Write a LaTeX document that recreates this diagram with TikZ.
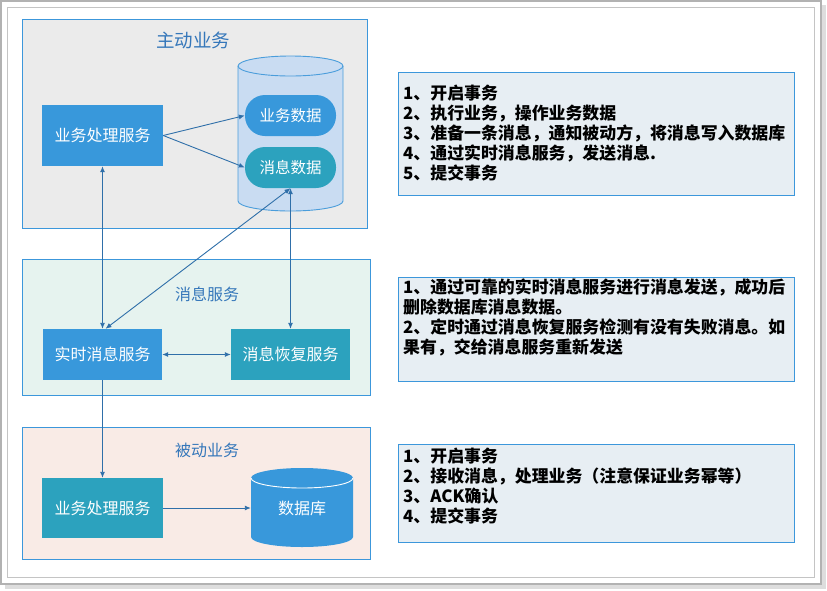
\documentclass[tikz,border=0pt]{standalone}
\usepackage{fontspec}
\setmainfont{Noto Sans CJK SC}
\newfontfamily\cjk{Noto Sans CJK SC}
\usetikzlibrary{arrows.meta}
\definecolor{frameout}{HTML}{B2B2B2}
\definecolor{framein}{HTML}{C4C4C4}
\definecolor{shadowc}{HTML}{DDDDDD}
\definecolor{edgeblue}{HTML}{3C97DB}
\definecolor{grpAfill}{HTML}{EBEBEB}
\definecolor{grpBfill}{HTML}{E6F3EF}
\definecolor{grpCfill}{HTML}{F9EBE6}
\definecolor{boxfill}{HTML}{E7EEF3}
\definecolor{cylfill}{HTML}{C9DCF2}
\definecolor{cyledge}{HTML}{4A9DDB}
\definecolor{nodeblue}{HTML}{3898DB}
\definecolor{nodeteal}{HTML}{2CA2BE}
\definecolor{arrowc}{HTML}{2F6FA9}
\definecolor{titlec}{HTML}{3577BA}
\begin{document}
\begin{tikzpicture}[x=1pt,y=1pt,
  grp/.style={draw=edgeblue,line width=0.9pt,rectangle,inner sep=0pt},
  svc/.style={rectangle,inner sep=0pt,text=white,font=\cjk\fontsize{16}{18}\selectfont},
  pill/.style={rectangle,rounded corners=20pt,inner sep=0pt,text=white,minimum width=91pt,minimum height=41pt,font=\cjk\fontsize{15.5}{18}\selectfont},
  ttl/.style={text=titlec,inner sep=0pt},
  notebox/.style={draw=edgeblue,line width=0.9pt,fill=boxfill,rectangle,inner sep=0pt,minimum width=396pt},
  notetext/.style={anchor=west,align=left,inner sep=0pt,font=\cjk\bfseries\fontsize{16.9}{20}\selectfont},
  arr/.style={draw=arrowc,line width=0.9pt,-{Latex[length=6pt,width=5pt]}},
  darr/.style={draw=arrowc,line width=0.9pt,{Latex[length=6pt,width=5pt]}-{Latex[length=6pt,width=5pt]}}
]
\useasboundingbox (0,0) rectangle (827,-590);
% outer frame
\fill[shadowc] (5,-5) rectangle (826,-589);
\fill[white] (1,-1) rectangle (821,-584);
\draw[frameout,line width=1.3pt] (1,-1) rectangle (821,-584);
\draw[framein,line width=1pt] (7,-7) rectangle (814,-577);

% groups
\node[grp,fill=grpAfill,minimum width=345pt,minimum height=209pt] (grpA) at (194.5,-123.5) {};
\node[grp,fill=grpBfill,minimum width=348pt,minimum height=136pt] (grpB) at (196,-327) {};
\node[grp,fill=grpCfill,minimum width=348pt,minimum height=132pt] (grpC) at (196,-493) {};

\node[ttl,font=\cjk\fontsize{18.5}{20}\selectfont] (ttlA) at (193,-40) {主动业务};
\node[ttl,font=\cjk\fontsize{16}{18}\selectfont] (ttlB) at (207,-294) {消息服务};
\node[ttl,font=\cjk\fontsize{16}{18}\selectfont] (ttlC) at (207,-450) {被动业务};

% top cylinder
\fill[cylfill] (238,-66) -- (238,-201) arc[start angle=180,end angle=360,x radius=52.5,y radius=10] -- (343,-66) arc[start angle=0,end angle=180,x radius=52.5,y radius=10] -- cycle;
\draw[cyledge,line width=0.9pt] (238,-66) -- (238,-201) arc[start angle=180,end angle=360,x radius=52.5,y radius=10] -- (343,-66) arc[start angle=0,end angle=180,x radius=52.5,y radius=10] -- cycle;
\draw[cyledge,line width=0.9pt] (238,-66) arc[start angle=180,end angle=360,x radius=52.5,y radius=10];
\node[inner sep=0pt,minimum width=105pt,minimum height=155pt] (cylA) at (290.5,-133.5) {};

\node[pill,fill=nodeblue] (pill1) at (290.5,-115.5) {业务数据};
\node[pill,fill=nodeteal] (pill2) at (290.5,-167.5) {消息数据};

\node[svc,fill=nodeblue,minimum width=121pt,minimum height=61pt] (svcA) at (102.5,-135.5) {业务处理服务};

% middle
\node[svc,fill=nodeblue,minimum width=119pt,minimum height=51pt] (rt) at (102.5,-354.5) {实时消息服务};
\node[svc,fill=nodeteal,minimum width=119pt,minimum height=51pt] (rec) at (290.5,-354.5) {消息恢复服务};

% bottom
\node[svc,fill=nodeteal,minimum width=121pt,minimum height=60pt] (svcC) at (102.5,-508) {业务处理服务};
\fill[nodeblue] (251,-478) -- (251,-537) arc[start angle=180,end angle=360,x radius=51,y radius=10] -- (353,-478) arc[start angle=0,end angle=180,x radius=51,y radius=10] -- cycle;
\draw[white,line width=0.9pt] (251,-478) arc[start angle=180,end angle=360,x radius=51,y radius=10];
\node[svc,minimum width=102pt,minimum height=60pt] (db) at (302,-508) {数据库};

% connectors
\draw[arr] (svcA.east) -- (pill1.west);
\draw[arr] (svcA.east) -- (pill2.west);
\draw[darr] (svcA.south) -- (rt.north);
\draw[darr] (pill2.south) -- ([xshift=3pt]rt.north);
\draw[darr] (pill2.south) -- (rec.north);
\draw[darr] (rt.east) -- (rec.west);
\draw[arr] (rt.south) -- (svcC.north);
\draw[arr] (svcC.east) -- (db.west);

% note boxes
\node[notebox,minimum height=123pt] (note1) at (596,-133.5) {};
\node[notebox,minimum height=104pt] (note2) at (596,-329) {};
\node[notebox,minimum height=98pt] (note3) at (596,-493) {};

\node[notetext] (text1) at (403,-133) {1、开启事务\\2、执行业务，操作业务数据\\3、准备一条消息，通知被动方，将消息写入数据库\\4、通过实时消息服务，发送消息.\\5、提交事务};
\node[notetext] (text2) at (403,-317) {1、通过可靠的实时消息服务进行消息发送，成功后\\删除数据库消息数据。\\2、定时通过消息恢复服务检测有没有失败消息。如\\果有，交给消息服务重新发送};
\node[notetext] (text3) at (403,-486) {1、开启事务\\2、接收消息，处理业务（注意保证业务幂等）\\3、ACK确认\\4、提交事务};
\end{tikzpicture}
\end{document}
